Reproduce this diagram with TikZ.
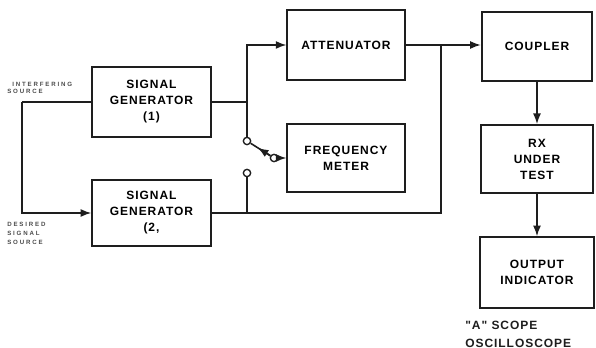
\documentclass[tikz,border=0pt]{standalone}
\usepackage{fontspec}
\setmainfont{Liberation Sans}[Ligatures=TeXOff]
\usetikzlibrary{positioning,arrows.meta,calc}
\definecolor{ink}{HTML}{1E1E1E}

\tikzset{
  unitbox/.style={draw=ink,line width=1.3pt,align=center,inner sep=1pt,
    font=\fontsize{9}{12}\selectfont\bfseries\addfontfeatures{LetterSpace=8}},
  tinylabel/.style={font=\fontsize{4.6}{5}\selectfont\bfseries\addfontfeatures{LetterSpace=30},
    inner sep=0pt,anchor=west,text=ink!80},
  sidelabel/.style={font=\fontsize{9}{12}\selectfont\bfseries\addfontfeatures{LetterSpace=8},
    anchor=west,inner sep=0pt,text=ink},
  jack/.style={circle,draw=ink,line width=1pt,fill=white,inner sep=0pt,minimum size=5.5pt},
  wire/.style={draw=ink,line width=1.2pt},
  feed/.style={wire,-{Latex[length=8pt,width=6pt]}}
}

\begin{document}
\begin{tikzpicture}[x=0.75pt,y=-0.75pt]
  \useasboundingbox (0,0) rectangle (596,348);
  % blocks
  \node[unitbox,minimum width=89pt,minimum height=52pt] (sg1) at (151.5,102) {SIGNAL\\GENERATOR\\(1)};
  \node[unitbox,minimum width=89pt,minimum height=49pt] (sg2) at (151.5,213) {SIGNAL\\GENERATOR\\(2,};
  \node[unitbox,minimum width=88pt,minimum height=53pt] (att) at (346,45) {ATTENUATOR};
  \node[unitbox,minimum width=88pt,minimum height=51pt] (fm) at (346,158) {FREQUENCY\\METER};
  \node[unitbox,minimum width=83pt,minimum height=52pt] (cpl) at (537,46.5) {COUPLER};
  \node[unitbox,minimum width=84pt,minimum height=51pt] (rx) at (537,159) {RX\\UNDER\\TEST};
  \node[unitbox,minimum width=85pt,minimum height=53pt] (out) at (537,272.5) {OUTPUT\\INDICATOR};

  % switch contacts
  \node[jack] (sw1) at (247,141) {};
  \node[jack] (sw2) at (274,158) {};
  \node[jack] (sw3) at (247,173) {};

  \coordinate (jA) at (247,102);
  \coordinate (jB) at (22,102);
  \coordinate (jD) at (441,45);

  % connections
  \draw[wire] (sg1.east) -- (jA) -- (sw1);
  \draw[feed] (jA) |- (att.west);
  \draw[wire] (sw1) -- (sw2);
  \draw[wire,-{Latex[length=8pt,width=6pt]}] (sw2) -- ($(sw2)!0.6!(sw1)$);
  \draw[feed] (sw2) -- (fm.west);
  \draw[wire] (sg2.east) -| (jD);
  \draw[wire] (sw3) -- (sw3 |- sg2.east);
  \draw[feed] (att.east) -- (cpl.west |- att.east);
  \draw[feed] (cpl.south) -- (rx.north);
  \draw[feed] (rx.south) -- (out.north);
  \draw[wire] (sg1.west) -- (jB);
  \draw[feed] (jB) |- (sg2.west);

  % source labels
  \node[tinylabel] (intf) at (12,84) {INTERFERING};
  \node[tinylabel] (intsrc) at (7,91) {SOURCE};
  \node[tinylabel] (des) at (7,224) {DESIRED};
  \node[tinylabel] (dessig) at (7,233) {SIGNAL};
  \node[tinylabel] (dessrc) at (7,242) {SOURCE};

  \node[sidelabel] (scope) at (465,325) {"A" SCOPE};
  \node[sidelabel] (osc) at (465,343) {OSCILLOSCOPE};
\end{tikzpicture}
\end{document}
